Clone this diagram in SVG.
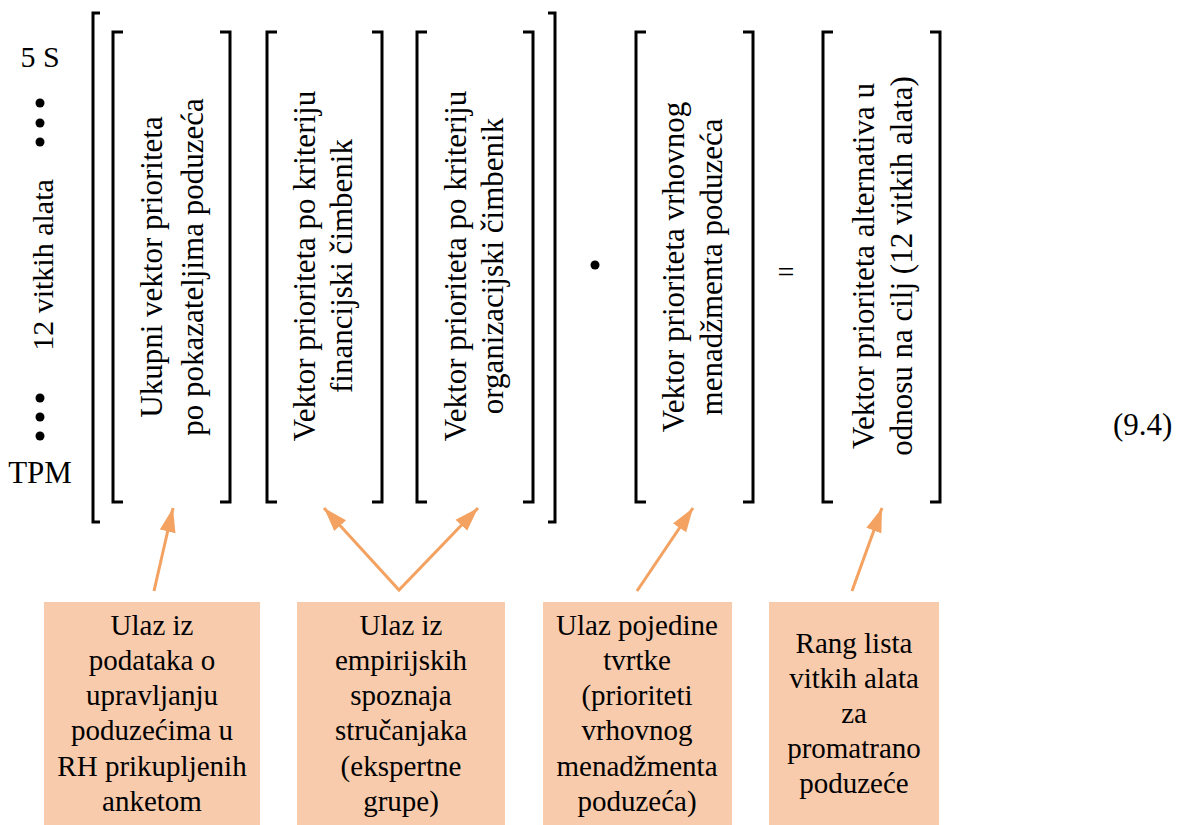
<svg xmlns="http://www.w3.org/2000/svg" width="1184" height="825" viewBox="0 0 1184 825">
<style>
text{font-family:'Liberation Serif','Times New Roman',serif;fill:#000}
.v{font-size:31px;text-anchor:middle}
.b{font-size:29px;text-anchor:middle}
.br{fill:none;stroke:#000;stroke-width:3}
.box{fill:#F8CBAD}
.ar{fill:none;stroke:#F4A261;stroke-width:3}
</style>
<defs>
<marker id="ah" markerUnits="userSpaceOnUse" markerWidth="26" markerHeight="18" refX="24" refY="9" orient="auto-start-reverse">
<path d="M0,1 L24,9 L0,17 z" fill="#F4A261"/>
</marker>
</defs>
<rect width="1184" height="825" fill="#fff"/>

<g id="left-labels">
<text x="40" y="67" font-size="30" text-anchor="middle">5 S</text>
<circle cx="40" cy="103" r="4.5"/>
<circle cx="40" cy="123" r="4.5"/>
<circle cx="40" cy="142" r="4.5"/>
<text transform="translate(53,265) rotate(-90)" font-size="30" text-anchor="middle">12 vitkih alata</text>
<circle cx="40" cy="398" r="4.5"/>
<circle cx="40" cy="417" r="4.5"/>
<circle cx="40" cy="436" r="4.5"/>
<text x="40" y="483" font-size="31" text-anchor="middle">TPM</text>
</g>

<g id="outer-bracket">
<path class="br" d="M100,13 H93 V522 H100"/>
<path class="br" d="M548,13 H555 V522 H548"/>
</g>

<g id="m1">
<path class="br" d="M123,32 H113 V502 H123"/>
<path class="br" d="M220,32 H230 V502 H220"/>
<text class="v" transform="translate(162,267) rotate(-90)">Ukupni vektor prioriteta</text>
<text class="v" transform="translate(203,267) rotate(-90)">po pokazateljima poduzeća</text>
</g>

<g id="m2">
<path class="br" d="M277,32 H267 V502 H277"/>
<path class="br" d="M372,32 H382 V502 H372"/>
<text class="v" transform="translate(315,266) rotate(-90)">Vektor prioriteta po kriteriju</text>
<text class="v" transform="translate(352,266) rotate(-90)">financijski čimbenik</text>
</g>

<g id="m3">
<path class="br" d="M427,32 H417 V502 H427"/>
<path class="br" d="M523,32 H533 V502 H523"/>
<text class="v" transform="translate(466,266) rotate(-90)">Vektor prioriteta po kriteriju</text>
<text class="v" transform="translate(503,266) rotate(-90)">organizacijski čimbenik</text>
</g>

<g id="op-dot">
<circle cx="595" cy="265" r="4.5"/>
</g>

<g id="m4">
<path class="br" d="M646,32 H636 V502 H646"/>
<path class="br" d="M743,32 H753 V502 H743"/>
<text class="v" transform="translate(684,267) rotate(-90)">Vektor prioriteta vrhovnog</text>
<text class="v" transform="translate(722,267) rotate(-90)">menadžmenta poduzeća</text>
</g>

<g id="op-eq">
<text x="786" y="282" font-size="30" text-anchor="middle">=</text>
</g>

<g id="m5">
<path class="br" d="M833,32 H823 V502 H833"/>
<path class="br" d="M930,32 H940 V502 H930"/>
<text class="v" transform="translate(874,266) rotate(-90)">Vektor prioriteta alternativa u</text>
<text class="v" transform="translate(912,266) rotate(-90)">odnosu na cilj (12 vitkih alata)</text>
</g>

<g id="eq-number">
<text x="1113" y="435" font-size="31">(9.4)</text>
</g>

<g id="box1">
<rect class="box" x="44" y="602" width="216" height="223"/>
<text class="b" x="152" y="635">Ulaz iz</text>
<text class="b" x="152" y="670">podataka o</text>
<text class="b" x="152" y="705">upravljanju</text>
<text class="b" x="152" y="740">poduzećima u</text>
<text class="b" x="152" y="776">RH prikupljenih</text>
<text class="b" x="152" y="811">anketom</text>
</g>

<g id="box2">
<rect class="box" x="297" y="602" width="208" height="223"/>
<text class="b" x="401" y="635">Ulaz iz</text>
<text class="b" x="401" y="670">empirijskih</text>
<text class="b" x="401" y="705">spoznaja</text>
<text class="b" x="401" y="740">stručanjaka</text>
<text class="b" x="401" y="776">(ekspertne</text>
<text class="b" x="401" y="811">grupe)</text>
</g>

<g id="box3">
<rect class="box" x="543" y="602" width="189" height="223"/>
<text class="b" x="637" y="635">Ulaz pojedine</text>
<text class="b" x="637" y="670">tvrtke</text>
<text class="b" x="637" y="705">(prioriteti</text>
<text class="b" x="637" y="740">vrhovnog</text>
<text class="b" x="637" y="776">menadžmenta</text>
<text class="b" x="637" y="811">poduzeća)</text>
</g>

<g id="box4">
<rect class="box" x="769" y="602" width="170" height="223"/>
<text class="b" x="854" y="653">Rang lista</text>
<text class="b" x="854" y="688">vitkih alata</text>
<text class="b" x="854" y="723">za</text>
<text class="b" x="854" y="758">promatrano</text>
<text class="b" x="854" y="793">poduzeće</text>
</g>

<g id="connectors">
<path class="ar" d="M154,591 L173,508" marker-end="url(#ah)"/>
<path class="ar" d="M324,508 L399,590 L478,508" marker-start="url(#ah)" marker-end="url(#ah)"/>
<path class="ar" d="M637,591 L693,508" marker-end="url(#ah)"/>
<path class="ar" d="M852,591 L882,508" marker-end="url(#ah)"/>
</g>
</svg>
